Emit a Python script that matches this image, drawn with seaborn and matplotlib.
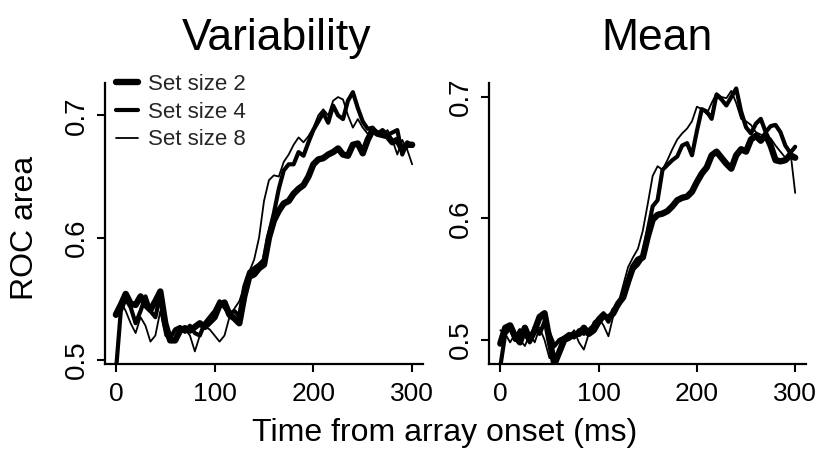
import numpy as np
import pandas as pd
import matplotlib
matplotlib.use("Agg")
import matplotlib.pyplot as plt
import seaborn as sns

# ---------------- data ----------------
time_ms = list(range(0, 301, 5))

var_set2 = [0.537, 0.545, 0.554, 0.546, 0.545, 0.552, 0.545, 0.541, 0.548, 0.556,
            0.530, 0.516, 0.516, 0.524, 0.526, 0.524, 0.527, 0.530, 0.527, 0.531,
            0.535, 0.545, 0.547, 0.537, 0.534, 0.530, 0.552, 0.568, 0.570, 0.575,
            0.578, 0.600, 0.614, 0.622, 0.628, 0.630, 0.636, 0.640, 0.643, 0.650,
            0.660, 0.664, 0.665, 0.668, 0.670, 0.673, 0.668, 0.667, 0.676, 0.677,
            0.669, 0.680, 0.688, 0.685, 0.684, 0.683, 0.678, 0.680, 0.672, 0.676,
            0.676]
var_set4 = [0.490, 0.540, 0.550, 0.543, 0.530, 0.540, 0.552, 0.540, 0.535, 0.553,
            0.527, 0.518, 0.525, 0.527, 0.523, 0.528, 0.522, 0.520, 0.530, 0.535,
            0.540, 0.548, 0.543, 0.538, 0.540, 0.536, 0.560, 0.572, 0.575, 0.578,
            0.582, 0.603, 0.620, 0.640, 0.655, 0.660, 0.660, 0.670, 0.667, 0.678,
            0.688, 0.695, 0.702, 0.694, 0.708, 0.700, 0.697, 0.712, 0.719, 0.706,
            0.695, 0.689, 0.690, 0.685, 0.688, 0.684, 0.686, 0.688, 0.668, 0.678,
            0.675]
var_set8 = [0.535, 0.548, 0.540, 0.530, 0.522, 0.535, 0.528, 0.515, 0.520, 0.540,
            0.520, 0.515, 0.517, 0.525, 0.525, 0.520, 0.507, 0.520, 0.527, 0.525,
            0.520, 0.515, 0.520, 0.535, 0.542, 0.548, 0.560, 0.572, 0.582, 0.600,
            0.630, 0.647, 0.651, 0.650, 0.662, 0.668, 0.676, 0.682, 0.678, 0.683,
            0.690, 0.700, 0.705, 0.700, 0.712, 0.715, 0.713, 0.700, 0.690, 0.697,
            0.690, 0.685, 0.689, 0.686, 0.683, 0.688, 0.680, 0.668, 0.680, 0.672,
            0.660]

mean_set2 = [0.497, 0.510, 0.512, 0.503, 0.498, 0.510, 0.500, 0.508, 0.519, 0.522,
             0.500, 0.480, 0.490, 0.500, 0.502, 0.505, 0.505, 0.510, 0.505, 0.508,
             0.515, 0.520, 0.518, 0.522, 0.530, 0.535, 0.548, 0.560, 0.566, 0.568,
             0.585, 0.599, 0.603, 0.604, 0.606, 0.610, 0.615, 0.617, 0.618, 0.622,
             0.630, 0.637, 0.642, 0.652, 0.655, 0.650, 0.645, 0.641, 0.652, 0.657,
             0.655, 0.665, 0.668, 0.664, 0.669, 0.660, 0.648, 0.647, 0.648, 0.652,
             0.650]
mean_set4 = [0.478, 0.505, 0.510, 0.500, 0.508, 0.505, 0.498, 0.510, 0.505, 0.515,
             0.505, 0.495, 0.500, 0.502, 0.505, 0.502, 0.508, 0.505, 0.508, 0.512,
             0.518, 0.522, 0.515, 0.525, 0.528, 0.535, 0.550, 0.558, 0.562, 0.568,
             0.590, 0.610, 0.615, 0.640, 0.644, 0.648, 0.651, 0.660, 0.662, 0.652,
             0.672, 0.690, 0.688, 0.682, 0.702, 0.698, 0.693, 0.700, 0.707, 0.688,
             0.675, 0.670, 0.678, 0.682, 0.671, 0.676, 0.677, 0.671, 0.660, 0.654,
             0.659]
mean_set8 = [0.508, 0.505, 0.498, 0.505, 0.500, 0.495, 0.505, 0.498, 0.510, 0.500,
             0.485, 0.495, 0.498, 0.503, 0.500, 0.508, 0.498, 0.492, 0.505, 0.515,
             0.518, 0.512, 0.503, 0.520, 0.530, 0.545, 0.560, 0.568, 0.575, 0.590,
             0.612, 0.635, 0.643, 0.640, 0.648, 0.657, 0.665, 0.670, 0.674, 0.680,
             0.692, 0.690, 0.686, 0.695, 0.703, 0.700, 0.699, 0.705, 0.695, 0.682,
             0.680, 0.677, 0.671, 0.669, 0.667, 0.666, 0.660, 0.655, 0.650, 0.656,
             0.621]

set_labels = ["Set size 2", "Set size 4", "Set size 8"]
panel_titles = ["Variability", "Mean"]
x_ticks = [0, 100, 200, 300]
y_ticks = [0.5, 0.6, 0.7]
y_tick_labels = ["0.5", "0.6", "0.7"]
x_label = "Time from array onset (ms)"
y_label = "ROC area"

# ---------------- style ----------------
sns.set_theme(style="white")
plt.rcParams["font.family"] = ["Liberation Sans", "DejaVu Sans"]

W, H = 823, 453
fig = plt.figure(figsize=(W / 100, H / 100), dpi=100)
fig.patch.set_facecolor("white")

def fx(px):
    return px / W

def fy(py):
    return 1 - py / H

axL = fig.add_axes([fx(105), fy(364), fx(423) - fx(105), fy(83) - fy(364)])
axR = fig.add_axes([fx(489.5), fy(364), fx(806) - fx(489.5), fy(83) - fy(364)])

lws = [4.6, 3.0, 1.3]
panels = [
    (axL, [var_set2, var_set4, var_set8], (0.4967, 0.7265)),
    (axR, [mean_set2, mean_set4, mean_set8], (0.4802, 0.7115)),
]

for ax, series, ylim in panels:
    for vals, lab, lw in zip(series, set_labels, lws):
        df = pd.DataFrame({"t": time_ms, "v": vals})
        sns.lineplot(data=df, x="t", y="v", ax=ax, color="black", linewidth=lw,
                     label=lab, legend=False, solid_capstyle="round",
                     solid_joinstyle="round")
    ax.set_xlim(-11, 311)
    ax.set_ylim(*ylim)
    ax.set_xticks(x_ticks)
    ax.set_yticks(y_ticks)
    ax.set_xticklabels([str(v) for v in x_ticks], fontsize=19)
    ax.set_yticklabels(y_tick_labels, fontsize=20, rotation=90, va="center")
    ax.set_xlabel("")
    ax.set_ylabel("")
    for s in ["top", "right"]:
        ax.spines[s].set_visible(False)
    for s in ["left", "bottom"]:
        ax.spines[s].set_color("black")
        ax.spines[s].set_linewidth(1.6)
    ax.tick_params(axis="both", which="major", direction="out", length=6,
                   width=1.5, color="black", labelcolor="black",
                   bottom=True, left=True)
    ax.tick_params(axis="x", pad=7)
    ax.tick_params(axis="y", pad=5)
    ax.set_facecolor("white")
    ax.grid(False)

handles = axL.get_lines()[:3]
leg = fig.legend(handles, set_labels, loc="upper left",
                 bbox_to_anchor=(fx(116), fy(74)), frameon=False,
                 fontsize=16, handlelength=1.0, handletextpad=0.45,
                 labelspacing=0.3, borderpad=0, borderaxespad=0)

fig.text(fx(277), fy(50), panel_titles[0], ha="center", va="baseline", fontsize=32,
         color="black")
fig.text(fx(657), fy(50), panel_titles[1], ha="center", va="baseline", fontsize=32,
         color="black")
fig.text(fx(445), fy(441), x_label, ha="center", va="baseline", fontsize=23,
         color="black")
fig.text(fx(25), fy(228), y_label, ha="center", va="center", fontsize=23,
         rotation=90, color="black")

fig.savefig("out.png", dpi=100, facecolor="white")
